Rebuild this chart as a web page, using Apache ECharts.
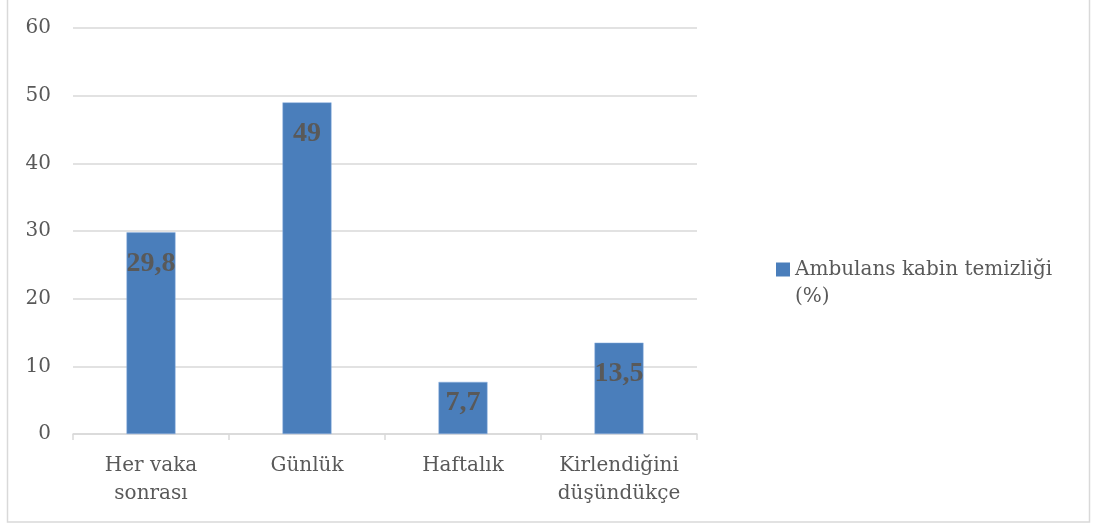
<!DOCTYPE html>
<html><head><meta charset="utf-8">
<script src="https://cdn.jsdelivr.net/npm/echarts@6/dist/echarts.min.js"></script>
<style>html,body{margin:0;padding:0;background:#fff}#c{width:1096px;height:526px}</style>
</head><body><div id="c"></div>
<script>
const categories = ["Her vaka\nsonrası", "Günlük", "Haftalık", "Kirlendiğini\ndüşündükçe"];
const values = [29.8, 49, 7.7, 13.5];
const seriesName = "Ambulans kabin temizliği (%)";
const legendLines = ["Ambulans kabin temizliği", "(%)"];
const yTicks = [0, 10, 20, 30, 40, 50, 60];

const chart = echarts.init(document.getElementById('c'));
const axisFont = 'DejaVu Serif';
chart.setOption({
  animation: false,
  backgroundColor: '#fff',
  graphic: [{type:'rect', silent:true, shape:{x:7.5,y:-2,width:1082,height:524}, style:{fill:'none', stroke:'#d9d9d9', lineWidth:1.5}}],
  grid: {left: 73, right: 399, top: 28, bottom: 92, containLabel: false},
  legend: {
    orient: 'vertical', left: 776, top: 229, padding: 0, itemWidth: 14, itemHeight: 14,
    icon: 'rect',
    itemStyle: {borderWidth: 0},
    formatter: () => ' \n' + legendLines.join('\n'),
    textStyle: {fontFamily: axisFont, fontSize: 20, color: '#595959', lineHeight: 27}
  },
  xAxis: {
    type: 'category', data: categories,
    axisLine: {lineStyle: {color: '#d9d9d9', width: 1.5}},
    axisTick: {show: true, length: 6, lineStyle: {color: '#d9d9d9', width: 1.5}},
    axisLabel: {fontFamily: axisFont, fontSize: 20, color: '#595959', lineHeight: 28, margin: 18, interval: 0}
  },
  yAxis: {
    type: 'value', min: yTicks[0], max: yTicks[yTicks.length-1], interval: 10,
    axisLine: {show: false}, axisTick: {show: false},
    splitLine: {lineStyle: {color: '#d9d9d9', width: 1.5}},
    axisLabel: {fontFamily: axisFont, fontSize: 20, color: '#595959', margin: 22}
  },
  series: [{
    name: seriesName, type: 'bar', barWidth: 49,
    itemStyle: {color: '#4a7ebb', borderColor: '#8fb3e0', borderWidth: 0.5},
    data: values.map((v, i) => v < 10 ? {value: v, label: {distance: 7}} : v),
    label: {
      show: true, position: 'insideTop', distance: 17,
      formatter: p => String(p.value).replace('.', ','),
      fontFamily: 'Liberation Serif', fontWeight: 'bold',
      fontSize: 28, color: '#595959'
    }
  }]
});
</script></body></html>
